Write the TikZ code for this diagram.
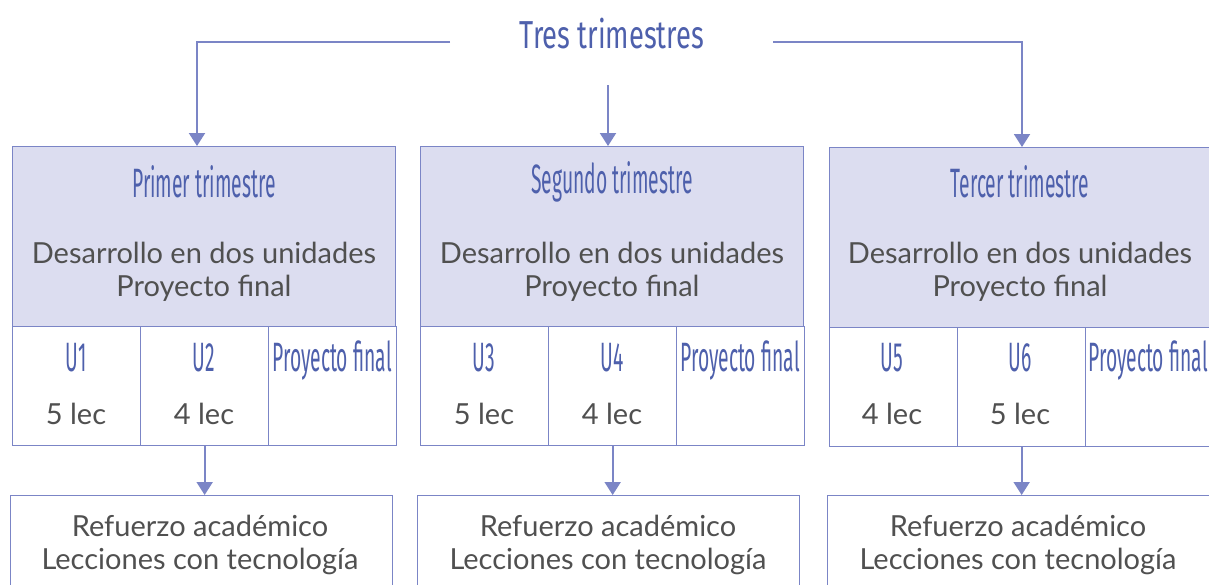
\documentclass[tikz,border=0pt]{standalone}
\usepackage{fontspec}
\setmainfont{Lato}
\newfontfamily\condf[FakeStretch=0.47]{Fira Sans}
\newfontfamily\titlef[FakeStretch=0.7]{Fira Sans}
\usetikzlibrary{arrows.meta,calc}
\definecolor{bluetxt}{HTML}{4E60AC}
\definecolor{lineblue}{HTML}{7B85C6}
\definecolor{headfill}{HTML}{DCDDF0}
\definecolor{graytxt}{HTML}{505050}
\tikzset{
  conn/.style={draw=lineblue, line width=2pt, -{Triangle[width=16pt,length=13pt]}},
  headbox/.style={draw=lineblue, line width=1.3pt, fill=headfill, minimum width=383pt, minimum height=180pt, anchor=north west, inner sep=0pt},
  cellbox/.style={draw=lineblue, line width=1.3pt, fill=white, minimum width=128pt, minimum height=119pt, anchor=north west, inner sep=0pt},
  botbox/.style={draw=lineblue, line width=1.3pt, fill=white, minimum width=382pt, minimum height=110pt, anchor=north west, inner sep=0pt},
  titletxt/.style={text=bluetxt, font=\titlef\fontsize{39}{41}\selectfont, inner sep=0pt},
  headtxt/.style={text=bluetxt, font=\condf\fontsize{41}{43}\selectfont, inner sep=0pt},
  celltxt/.style={text=bluetxt, font=\condf\fontsize{41}{43}\selectfont, inner sep=0pt},
  graytext/.style={text=graytxt, font=\fontsize{29}{33.5}\selectfont, align=center, inner sep=0pt},
}
\begin{document}
\begin{tikzpicture}[x=1pt,y=-1pt]
\useasboundingbox (0,0) rectangle (1209,584);
% title
\node[titletxt] (title) at (612,34) {Tres trimestres};
% header boxes
\node[headbox] (h1) at (12,146) {};
\node[headbox] (h2) at (420,146) {};
\node[headbox] (h3) at (829,147) {};
% header texts
\node[headtxt] (t1) at (204,182) {Primer trimestre};
\node[headtxt] (t2) at (612,182) {Segundo trimestre};
\node[headtxt] (t3) at (1020,182) {Tercer trimestre};
\node[graytext] (d1) at (204,272) {Desarrollo en dos unidades\\Proyecto final};
\node[graytext] (d2) at (612,272) {Desarrollo en dos unidades\\Proyecto final};
\node[graytext] (d3) at (1020,272) {Desarrollo en dos unidades\\Proyecto final};
% cells
\node[cellbox] (c11) at (12,326) {};
\node[cellbox] (c12) at (140,326) {};
\node[cellbox] (c13) at (268,326) {};
\node[cellbox] (c21) at (420,326) {};
\node[cellbox] (c22) at (548,326) {};
\node[cellbox] (c23) at (676,326) {};
\node[cellbox] (c31) at (829,327) {};
\node[cellbox] (c32) at (957,327) {};
\node[cellbox] (c33) at (1085,327) {};
% cell texts
\node[celltxt] (u1) at (76,358) {U1};
\node[celltxt] (u2) at (204,358) {U2};
\node[celltxt] (p1) at (332,360) {Proyecto final};
\node[celltxt] (u3) at (484,358) {U3};
\node[celltxt] (u4) at (612,358) {U4};
\node[celltxt] (p2) at (740,360) {Proyecto final};
\node[celltxt] (u5) at (892,358) {U5};
\node[celltxt] (u6) at (1020,358) {U6};
\node[celltxt] (p3) at (1148,360) {Proyecto final};
\node[graytext] (l1) at (76,414) {5 lec};
\node[graytext] (l2) at (204,414) {4 lec};
\node[graytext] (l3) at (484,414) {5 lec};
\node[graytext] (l4) at (612,414) {4 lec};
\node[graytext] (l5) at (892,414) {4 lec};
\node[graytext] (l6) at (1020,414) {5 lec};
% bottom boxes
\node[botbox] (b1) at (10,495) {};
\node[botbox] (b2) at (417,495) {};
\node[botbox] (b3) at (827,495) {};
\node[graytext] (r1) at (200,545) {Refuerzo académico\\Lecciones con tecnología};
\node[graytext] (r2) at (608,545) {Refuerzo académico\\Lecciones con tecnología};
\node[graytext] (r3) at (1018,545) {Refuerzo académico\\Lecciones con tecnología};
% connectors
\coordinate (tl) at (450,42);
\coordinate (tr) at (773,42);
\coordinate (tm) at (608,85);
\coordinate (a1) at (197,146);
\coordinate (a3) at (1022,147);
\draw[conn] (tl) -| (a1);
\draw[conn] (tr) -| (a3);
\draw[conn] (tm) -- (tm |- h2.north);
\draw[conn] (c12.south) -- (c12.south |- b1.north);
\draw[conn] (c22.south) -- (c22.south |- b2.north);
\draw[conn] (c32.south) -- (c32.south |- b3.north);
\end{tikzpicture}
\end{document}
